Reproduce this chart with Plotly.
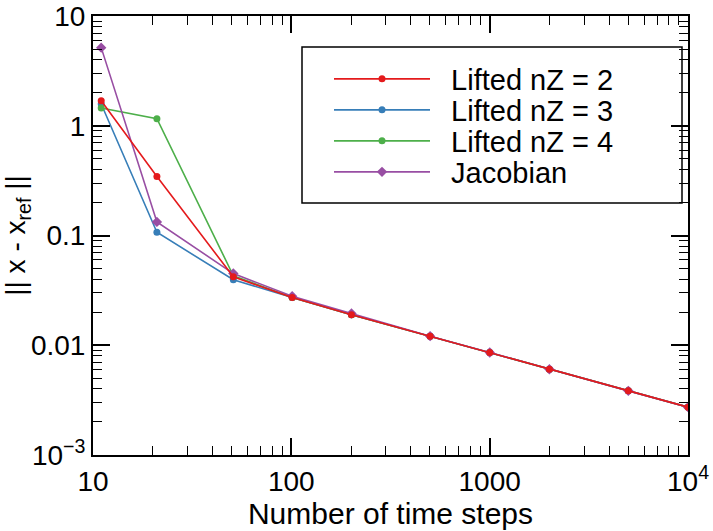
import plotly.graph_objects as go

steps = [11, 21, 51, 101, 201, 501, 1001, 2001, 5001, 10001]
tail = [0.0272, 0.0190, 0.0121, 0.0086, 0.00605, 0.00384, 0.00273]
lifted2 = [1.69, 0.345] + [0.042] + tail
lifted3 = [1.58, 0.107] + [0.0395] + tail
lifted4 = [1.45, 1.16] + [0.043] + tail
jacobian = [5.15, 0.133] + [0.045, 0.0280, 0.0195] + tail[2:]

# draw order (red on top), legend slot
series = [
    ("Lifted nZ = 3", lifted3, "#377eb8", "circle", "legend2"),
    ("Lifted nZ = 4", lifted4, "#4daf4a", "circle", "legend3"),
    ("Jacobian", jacobian, "#984ea3", "diamond", "legend4"),
    ("Lifted nZ = 2", lifted2, "#e41a1c", "circle", "legend"),
]

xtickvals = [10, 100, 1000, 10000]
xticktext = ["10", "100", "1000", "10<sup>4</sup>"]
ytickvals = [10, 1, 0.1, 0.01, 0.001]
yticktext = ["10", "1", "0.1", "0.01", "10<sup>\u22123</sup>"]

FONT = "Liberation Sans, Arial, Helvetica, sans-serif"

# plot-area pixel frame used for placing decorations
PL, PR, PT, PB = 93, 688, 16, 455
def px_x(v):
    return (v - PL) / (PR - PL)
def px_y(v):
    return (PB - v) / (PB - PT)

fig = go.Figure()
for name, vals, col, sym, leg in series:
    fig.add_trace(go.Scatter(
        x=steps, y=vals, name="\u00a0\u00a0" + name, mode="lines+markers",
        line=dict(color=col, width=1.6),
        marker=dict(color=col, size=7 if sym == "circle" else 8, symbol=sym),
        legend=leg,
    ))

axis_common = dict(
    type="log", showline=True, linecolor="black", linewidth=2,
    mirror="allticks", ticks="inside", ticklen=17, tickwidth=1.5, tickcolor="black",
    showgrid=False, zeroline=False, automargin=False,
    tickfont=dict(family=FONT, size=28, color="black"),
    minor=dict(dtick="D1", ticks="inside", ticklen=9, tickwidth=1.3, tickcolor="black", showgrid=False),
)

leg_common = dict(
    xanchor="left", yanchor="middle", bgcolor="rgba(0,0,0,0)", borderwidth=0,
    font=dict(family=FONT, size=29, color="black"), itemwidth=96,
)
row_px = [79, 110, 141, 172]
legends = {}
for i, key in enumerate(["legend", "legend2", "legend3", "legend4"]):
    legends[key] = dict(leg_common, x=px_x(329), y=px_y(row_px[i]))

fig.update_layout(
    width=713, height=531,
    margin=dict(l=PL, r=713 - PR, t=PT, b=531 - PB),
    paper_bgcolor="white", plot_bgcolor="white",
    font=dict(family=FONT, size=28, color="black"),
    showlegend=True,
    **legends,
    xaxis=dict(axis_common, range=[1, 4], tickvals=xtickvals, ticktext=xticktext,
               title=dict(text="Number of time steps", font=dict(family=FONT, size=30), standoff=0)),
    yaxis=dict(axis_common, range=[-3, 1], tickvals=ytickvals, ticktext=yticktext,
               title=dict(text="|| x - x<sub>ref</sub> ||", font=dict(family=FONT, size=28), standoff=4)),
    shapes=[dict(type="rect", xref="paper", yref="paper",
                 x0=px_x(302), x1=px_x(682), y0=px_y(203), y1=px_y(47),
                 line=dict(color="black", width=1.5), fillcolor="rgba(0,0,0,0)")],
)

fig.write_html("out.html")
